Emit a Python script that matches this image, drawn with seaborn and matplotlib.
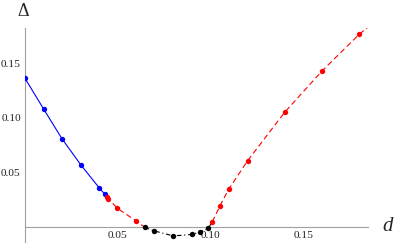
import numpy as np
import matplotlib
matplotlib.use("Agg")
import matplotlib.pyplot as plt
from matplotlib.ticker import MultipleLocator, FixedLocator
import seaborn as sns

# --- data ---
blue_x = [0.0, 0.01, 0.02, 0.03, 0.04, 0.043]
blue_y = [0.136, 0.108, 0.0805, 0.057, 0.0357, 0.030]

red_left_x = [0.0439, 0.0448, 0.0496, 0.0597]
red_left_y = [0.0277, 0.0259, 0.0174, 0.0057]

black_x = [0.0645, 0.0694, 0.0797, 0.0900, 0.0941, 0.0985]
black_y = [-0.0003, -0.0034, -0.0080, -0.0067, -0.0043, -0.0012]

red_right_x = [0.1007, 0.1048, 0.1095, 0.1197, 0.1396, 0.1597, 0.1797]
red_right_y = [0.0048, 0.0192, 0.0345, 0.0606, 0.1048, 0.1426, 0.1761]
# the fitted dashed curve runs on to the edge of the frame
red_end_x = 0.1845
red_end_y = 0.1828

x_labels = [0.05, 0.10, 0.15]
y_labels = [0.05, 0.10, 0.15]

# --- style ---
sns.set_style("white")
plt.rcParams['font.family'] = ['Liberation Serif', 'DejaVu Serif']

fig = plt.figure(figsize=(3.99, 2.43), dpi=100)
ax = fig.add_axes([25 / 399, 0.0, (368 - 25) / 399, 1 - 28 / 243])

lw = 0.8
# lines (red left connects down to first black point, black connects to first red right point)
sns.lineplot(x=blue_x, y=blue_y, color='#0000ff', lw=lw, sort=False, ax=ax)
sns.lineplot(x=red_left_x + [black_x[0]], y=red_left_y + [black_y[0]], color='#ff0000',
             lw=lw, sort=False, linestyle=(0, (5, 3)), ax=ax)
sns.lineplot(x=black_x + [red_right_x[0]], y=black_y + [red_right_y[0]], color='black',
             lw=lw, sort=False, linestyle=(0, (4, 2.5, 1, 2.5)), ax=ax)
sns.lineplot(x=red_right_x + [red_end_x], y=red_right_y + [red_end_y], color='#ff0000',
             lw=lw, sort=False, linestyle=(0, (5, 3)), ax=ax)

# points
ms = 15
sns.scatterplot(x=blue_x, y=blue_y, color='#0000ff', s=ms, linewidth=0, ax=ax, zorder=3)
sns.scatterplot(x=red_left_x, y=red_left_y, color='#ff0000', s=ms, linewidth=0, ax=ax, zorder=3)
sns.scatterplot(x=black_x, y=black_y, color='black', s=ms, linewidth=0, ax=ax, zorder=3)
sns.scatterplot(x=red_right_x, y=red_right_y, color='#ff0000', s=ms, linewidth=0, ax=ax, zorder=3)

# --- Mathematica-like axes through the origin ---
ax.set_xlim(0, 0.1845)
ax.set_ylim(-0.0145, 0.182)
for side in ['top', 'right']:
    ax.spines[side].set_visible(False)
ax.spines['left'].set_position(('data', 0))
ax.spines['bottom'].set_position(('data', 0))
for side in ['left', 'bottom']:
    ax.spines[side].set_color('#a0a0a0')
    ax.spines[side].set_linewidth(0.8)

ax.xaxis.set_major_locator(FixedLocator(x_labels))
ax.yaxis.set_major_locator(FixedLocator(y_labels))
ax.xaxis.set_minor_locator(MultipleLocator(0.01))
ax.yaxis.set_minor_locator(MultipleLocator(0.01))
ax.set_xticklabels([f"{v:.2f}" for v in x_labels])
ax.set_yticklabels([f"{v:.2f}" for v in y_labels])
ax.tick_params(which='major', direction='in', length=4, width=0.7, color='#a0a0a0',
               labelsize=8.2, labelcolor='#222222', pad=3)
ax.tick_params(which='minor', direction='in', length=2.5, width=0.6, color='#a0a0a0')
ax.set_xlabel('')
ax.set_ylabel('')
ax.patch.set_alpha(0)

fig.text(23 / 399, 1 - 11 / 243, 'Δ', ha='center', va='center', fontsize=13)
fig.text(388 / 399, 1 - 226 / 243, 'd', ha='center', va='center', fontsize=15, style='italic')

fig.savefig('out.png', dpi=100)
